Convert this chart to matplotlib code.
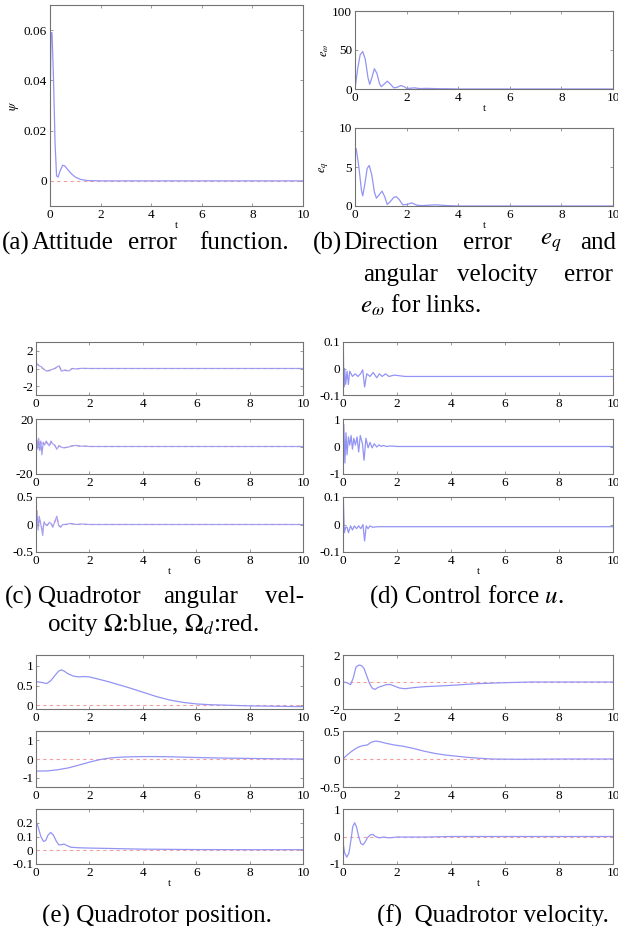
import matplotlib
matplotlib.use("Agg")
import matplotlib.pyplot as plt
from matplotlib.ticker import FormatStrFormatter

plt.rcParams['font.family'] = ['Liberation Serif', 'DejaVu Serif']
plt.rcParams['mathtext.fontset'] = 'stix'

W, H = 618, 926
BLUE = (0.58, 0.58, 0.96)
RED = (0.96, 0.62, 0.62)
SPINE = (0.45, 0.45, 0.45)

# attitude error function psi
psi_t = [0, 0.04, 0.08, 0.14, 0.2, 0.26, 0.32, 0.4, 0.5, 0.58, 0.7, 0.85, 1.0, 1.2, 1.5, 2.0, 10]
psi = [0.026, 0.059, 0.059, 0.04, 0.015, 0.002, 0.0015, 0.004, 0.0062, 0.006, 0.0045, 0.0028,
       0.0015, 0.0006, 0.0001, 0.0, 0.0]

# link errors e_omega and e_q
ew_t = [0, 0.1, 0.2, 0.3, 0.4, 0.5, 0.57, 0.65, 0.75, 0.85, 0.95, 1.02, 1.12, 1.25, 1.38, 1.5,
        1.62, 1.78, 1.9, 2.0, 2.15, 2.3, 2.5, 2.8, 3.2, 3.6, 4.0, 10]
ew = [0, 25, 44, 48, 38, 15, 6, 14, 26, 20, 7, 3, 6, 10, 6, 1.5, 2, 4.5, 3, 0.8, 1, 1.5, 0.6,
      0.8, 0.4, 0.3, 0, 0]
eq_t = [0, 0.05, 0.15, 0.25, 0.3, 0.38, 0.47, 0.55, 0.65, 0.75, 0.83, 0.95, 1.05, 1.15, 1.25,
        1.35, 1.5, 1.6, 1.72, 1.85, 2.0, 2.2, 2.4, 2.6, 3.1, 3.6, 4.0, 10]
eq = [7.5, 7.3, 5, 2, 1.3, 2.8, 4.8, 5.2, 4, 1.8, 1, 1.5, 1.9, 1.2, 0.2, 0.5, 1.1, 1.2, 0.8,
      0.15, 0.2, 0.4, 0.1, 0.05, 0.15, 0.05, 0, 0]

# quadrotor angular velocity (blue) and its desired value (red)
om1_t = [0, 0.05, 0.12, 0.2, 0.3, 0.4, 0.5, 0.6, 0.7, 0.8, 0.87, 0.95, 1.05, 1.15, 1.25, 1.35,
         1.5, 1.7, 2.0, 10]
om1 = [0.6, 0.5, 0.3, 0.2, -0.1, -0.3, -0.25, -0.1, 0, 0.2, 0.3, -0.3, -0.2, -0.25, -0.25, 0,
       -0.05, 0.02, 0, 0]
om1_d = [0.5, 0.45, 0.3, 0.1, -0.1, -0.25, -0.2, -0.1, 0, 0.15, 0.25, -0.2, -0.15, -0.2, -0.2,
         0, -0.03, 0, 0, 0]
om2_t = [0, 0.03, 0.07, 0.1, 0.14, 0.18, 0.22, 0.27, 0.32, 0.38, 0.44, 0.5, 0.56, 0.62, 0.7,
         0.78, 0.86, 0.95, 1.05, 1.2, 1.35, 1.5, 1.65, 1.8, 2.0, 10]
om2 = [-4, 5, -2, 6, -3, 4, -6, 3, 1, 4, 2, 0.5, 4, 2, 1, -2, 0.5, -0.5, -1, -0.5, 0.5, 0.8,
       0.2, 0.3, 0, 0]
om2_d = [-8, 4, -1, 5, -2, 3, -4, 3, 1, 3, 2, 0.5, 3, 2, 1, -1.5, 0.5, -0.3, -0.8, -0.4, 0.4,
         0.6, 0.2, 0.2, 0, 0]
om3_t = [0, 0.04, 0.08, 0.12, 0.16, 0.2, 0.25, 0.3, 0.36, 0.42, 0.5, 0.56, 0.63, 0.7, 0.78,
         0.85, 0.92, 1.0, 1.1, 1.3, 1.5, 1.7, 2.0, 10]
om3 = [0.0, 0.2, -0.1, 0.15, 0.05, -0.05, -0.2, 0.05, 0.0, -0.02, 0.04, 0.02, -0.05, 0.05, 0.15,
       -0.02, -0.05, 0.0, 0.0, 0.02, 0.0, 0.01, 0, 0]
om3_d = [0.38, 0.3, -0.05, 0.1, 0.05, -0.03, -0.1, 0.03, 0.0, -0.01, 0.03, 0.02, -0.03, 0.04,
         0.12, -0.01, -0.04, 0.0, 0.0, 0.01, 0.0, 0.0, 0, 0]

# control force u
u1_t = [0, 0.01, 0.03, 0.06, 0.1, 0.15, 0.2, 0.25, 0.35, 0.45, 0.55, 0.65, 0.73, 0.8, 0.88,
        1.0, 1.12, 1.25, 1.35, 1.45, 1.58, 1.7, 1.9, 2.3, 10]
u1 = [0.1, 0.1, -0.07, 0.0, -0.06, -0.01, -0.06, -0.01, -0.03, -0.02, -0.03, -0.02, -0.005,
      -0.07, -0.02, -0.03, -0.015, -0.035, -0.02, -0.03, -0.02, -0.03, -0.025, -0.03, -0.03]
u2_t = [0, 0.03, 0.07, 0.11, 0.15, 0.2, 0.25, 0.3, 0.35, 0.4, 0.46, 0.52, 0.58, 0.64, 0.72,
        0.78, 0.85, 0.93, 1.0, 1.08, 1.16, 1.25, 1.33, 1.42, 1.5, 1.6, 1.75, 2.0, 2.3, 10]
u2 = [0, 0.8, -0.6, 0.5, -0.3, 0.35, 0.05, 0.4, -0.1, 0.3, 0.05, 0.35, -0.2, 0.4, 0.1, -0.5,
      0.3, -0.05, 0.15, -0.05, 0.1, -0.02, 0.06, 0.0, 0.04, 0.0, 0.02, 0.0, 0, 0]
u3_t = [0, 0.01, 0.05, 0.1, 0.15, 0.2, 0.28, 0.35, 0.42, 0.5, 0.58, 0.66, 0.74, 0.8, 0.86,
        0.93, 1.0, 1.1, 1.3, 1.5, 10]
u3 = [0.1, 0.1, -0.03, -0.01, -0.01, -0.03, -0.005, -0.02, -0.005, -0.015, -0.005, -0.015, 0.0,
      -0.06, -0.005, -0.015, -0.005, -0.01, -0.008, -0.008, -0.008]

# quadrotor position
px_t = [0, 0.2, 0.4, 0.55, 0.7, 0.85, 0.95, 1.05, 1.2, 1.4, 1.6, 1.8, 2.0, 2.3, 2.7, 3.1, 3.5,
        4.0, 4.5, 5.0, 5.5, 6.0, 6.5, 7.0, 8.0, 9.0, 10]
px = [0.6, 0.58, 0.55, 0.62, 0.75, 0.87, 0.9, 0.87, 0.8, 0.74, 0.72, 0.73, 0.72, 0.67, 0.6,
      0.52, 0.44, 0.33, 0.22, 0.13, 0.07, 0.03, 0.01, 0.0, -0.02, -0.03, -0.04]
py_t = [0, 0.4, 0.8, 1.2, 1.6, 2.0, 2.4, 2.8, 3.2, 3.6, 4.0, 4.5, 5.0, 6.0, 7.0, 8.0, 9.0, 10]
py = [-0.65, -0.64, -0.58, -0.48, -0.33, -0.17, -0.03, 0.06, 0.1, 0.12, 0.13, 0.13, 0.12, 0.08,
      0.05, 0.03, 0.01, 0.0]
pz_t = [0, 0.08, 0.18, 0.28, 0.36, 0.45, 0.55, 0.65, 0.75, 0.85, 0.95, 1.05, 1.15, 1.3, 1.6,
        2.0, 3.0, 4.0, 6.0, 8.0, 10]
pz = [0.21, 0.17, 0.1, 0.065, 0.07, 0.11, 0.13, 0.11, 0.07, 0.04, 0.04, 0.045, 0.035, 0.022,
      0.018, 0.016, 0.012, 0.008, 0.005, 0.004, 0.004]

# quadrotor velocity
vx_t = [0, 0.15, 0.28, 0.38, 0.48, 0.58, 0.68, 0.78, 0.88, 0.98, 1.08, 1.18, 1.3, 1.45, 1.6,
        1.75, 1.9, 2.1, 2.3, 2.6, 3.0, 3.5, 4.0, 5.0, 6.0, 7.0, 10]
vx = [0, -0.05, -0.2, 0.3, 1.1, 1.25, 1.22, 1.0, 0.45, -0.1, -0.45, -0.55, -0.4, -0.3, -0.2,
      -0.18, -0.3, -0.45, -0.5, -0.42, -0.35, -0.3, -0.25, -0.12, -0.05, 0.0, 0.0]
vy_t = [0, 0.15, 0.3, 0.45, 0.6, 0.75, 0.9, 1.05, 1.2, 1.35, 1.6, 1.9, 2.2, 2.6, 3.0, 3.4, 3.8,
        4.2, 4.6, 5.0, 5.5, 6.5, 8.0, 10]
vy = [0, 0.07, 0.13, 0.18, 0.22, 0.24, 0.25, 0.3, 0.32, 0.31, 0.28, 0.25, 0.23, 0.19, 0.14,
      0.1, 0.07, 0.05, 0.03, 0.015, 0.0, -0.005, 0.0, 0.0]
vz_t = [0, 0.06, 0.14, 0.22, 0.3, 0.36, 0.43, 0.5, 0.58, 0.66, 0.74, 0.82, 0.9, 1.0, 1.1, 1.2,
        1.35, 1.5, 1.7, 2.0, 2.5, 3.0, 4.0, 10]
vz = [-0.2, -0.6, -0.75, -0.6, -0.1, 0.35, 0.5, 0.35, 0.0, -0.25, -0.3, -0.2, -0.05, 0.05, 0.08,
      0.0, -0.05, -0.02, -0.05, -0.02, -0.02, -0.02, 0.0, 0.0]

# desired (zero) references
ref_t = [0, 10]
ref = [0, 0]

xticks = [0, 2, 4, 6, 8, 10]


def px2fig(x, y):
    return x / W, 1 - y / H


# box given as pixel edges: left, right, top, bottom
def make_axes(fig, left, right, top, bottom, ylim, yticks):
    ax = fig.add_axes([left / W, 1 - bottom / H, (right - left) / W, (bottom - top) / H])
    ax.set_xlim(0, 10)
    ax.set_ylim(*ylim)
    ax.set_xticks(xticks)
    ax.set_yticks(yticks)
    ax.yaxis.set_major_formatter(FormatStrFormatter('%g'))
    ax.tick_params(direction='in', length=2.5, width=0.5, color=SPINE, labelsize=9.5,
                   top=True, right=True, pad=2)
    for s in ax.spines.values():
        s.set_color(SPINE)
        s.set_linewidth(0.8)
    return ax


def xlab(ax):
    ax.set_xlabel('t', fontsize=8, labelpad=0)


fig = plt.figure(figsize=(W / 100, H / 100), dpi=100)

# (a)
ax = make_axes(fig, 50, 303, 5, 206, (-0.01, 0.07), [0, 0.02, 0.04, 0.06])
ax.plot(ref_t, ref, color=RED, lw=0.8, ls=(0, (3, 3)))
ax.plot(psi_t, psi, color=BLUE, lw=0.9)
ax.set_ylabel(r'$\psi$', fontsize=9, labelpad=2)
xlab(ax)

# (b)
ax = make_axes(fig, 355, 613, 11, 89, (0, 100), [0, 50, 100])
ax.plot(ew_t, ew, color=BLUE, lw=0.9)
ax.set_ylabel(r'$e_\omega$', fontsize=9, labelpad=1)
xlab(ax)
ax = make_axes(fig, 355, 613, 128, 206, (0, 10), [0, 5, 10])
ax.plot(eq_t, eq, color=BLUE, lw=0.9)
ax.set_ylabel(r'$e_q$', fontsize=9, labelpad=6)
xlab(ax)

# (c)
rows = [(342, 395), (419, 474), (497, 552)]
c_data = [(om1_t, om1, om1_d, (-3, 3), [-2, 0, 2]),
          (om2_t, om2, om2_d, (-20, 20), [-20, 0, 20]),
          (om3_t, om3, om3_d, (-0.5, 0.5), [-0.5, 0, 0.5])]
for (top, bot), (t, y, yd, lim, tk) in zip(rows, c_data):
    ax = make_axes(fig, 36, 303, top, bot, lim, tk)
    ax.plot(t, yd, color=RED, lw=0.8, ls=(0, (3, 3)))
    ax.plot(t, y, color=BLUE, lw=0.9, alpha=0.85)
xlab(ax)

# (d)
d_data = [(u1_t, u1, (-0.1, 0.1), [-0.1, 0, 0.1]),
          (u2_t, u2, (-1, 1), [-1, 0, 1]),
          (u3_t, u3, (-0.1, 0.1), [-0.1, 0, 0.1])]
for (top, bot), (t, y, lim, tk) in zip(rows, d_data):
    ax = make_axes(fig, 343, 613, top, bot, lim, tk)
    ax.plot(t, y, color=BLUE, lw=0.9)
xlab(ax)

# (e) and (f)
rows = [(655, 709), (731, 787), (809, 864)]
e_data = [(px_t, px, (-0.1, 1.28), [0, 0.5, 1]),
          (py_t, py, (-1.5, 1.5), [-1, 0, 1]),
          (pz_t, pz, (-0.1, 0.3), [-0.1, 0, 0.1, 0.2])]
for (top, bot), (t, y, lim, tk) in zip(rows, e_data):
    ax = make_axes(fig, 36, 303, top, bot, lim, tk)
    ax.plot(ref_t, ref, color=RED, lw=0.8, ls=(0, (3, 3)))
    ax.plot(t, y, color=BLUE, lw=0.9)
xlab(ax)

f_data = [(vx_t, vx, (-2, 2), [-2, 0, 2]),
          (vy_t, vy, (-0.5, 0.5), [-0.5, 0, 0.5]),
          (vz_t, vz, (-1, 1), [-1, 0, 1])]
for (top, bot), (t, y, lim, tk) in zip(rows, f_data):
    ax = make_axes(fig, 343, 613, top, bot, lim, tk)
    ax.plot(ref_t, ref, color=RED, lw=0.8, ls=(0, (3, 3)))
    ax.plot(t, y, color=BLUE, lw=0.9)
xlab(ax)

# sub-captions, words placed one by one to get the justified look
CAP = 18


def words(y, items, ha='left'):
    for x, s in items:
        fig.text(*px2fig(x, y), s, fontsize=CAP, ha=ha, va='center')


words(243, [(2, '(a)'), (32, 'Attitude'), (128, 'error'), (199, 'function.')])
words(243, [(313, '(b)'), (343, 'Direction'), (463, 'error'), (540, r'$e_q$'), (580, 'and')])
words(275, [(363, 'angular'), (457, 'velocity'), (564, 'error')])
words(305, [(360, r'$e_\omega$ for links.')])
words(597, [(5, '(c)'), (38, 'Quadrotor'), (163, 'angular'), (265, 'vel-')])
words(625, [(47, r'ocity $\Omega$:blue, $\Omega_d$:red.')])
words(597, [(466, r'(d) Control force $u$.')], ha='center')
words(916, [(157, '(e) Quadrotor position.')], ha='center')
words(916, [(493, '(f)  Quadrotor velocity.')], ha='center')

fig.savefig('out.png', dpi=100)
